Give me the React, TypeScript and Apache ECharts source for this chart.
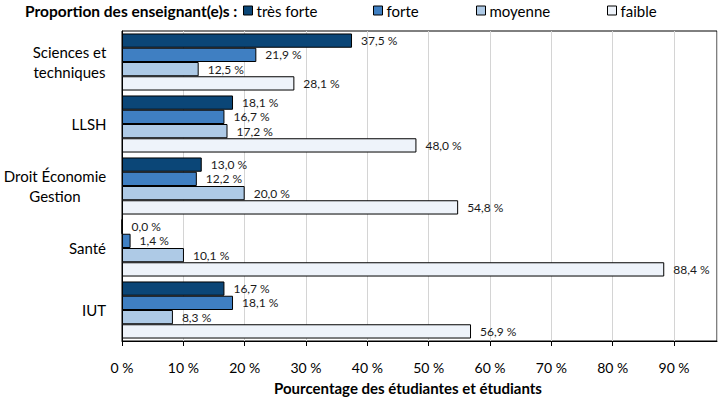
import React, { useEffect, useRef } from "react";
import * as echarts from "echarts";

const categories = ["Sciences et\ntechniques", "LLSH", "Droit Économie\nGestion", "Santé", "IUT"];
const seriesNames = ["très forte", "forte", "moyenne", "faible"];
const tresForte = [37.5, 18.1, 13.0, 0.0, 16.7];
const forte = [21.9, 16.7, 12.2, 1.4, 18.1];
const moyenne = [12.5, 17.2, 20.0, 10.1, 8.3];
const faible = [28.1, 48.0, 54.8, 88.4, 56.9];
const legendTitle = "Proportion des enseignant(e)s :";
const axisTitle = "Pourcentage des étudiantes et étudiants";
const colors = ["#0b4677", "#3f7fc2", "#aecae6", "#eef3fa"];
const legendLeft = [243, 373, 476, 607];

const FONT = "Lato, 'Open Sans', sans-serif";
const CAT_FONT_SIZE = 15;

function measure(text: string, font: string): number {
  const c = document.createElement("canvas").getContext("2d");
  if (!c) return text.length * 7;
  c.font = font;
  return c.measureText(text).width;
}

export default function App() {
  const ref = useRef<HTMLDivElement>(null);
  useEffect(() => {
    if (!ref.current) return;
    const chart = echarts.init(ref.current, null, { renderer: "svg" });
    const data = [tresForte, forte, moyenne, faible];

    // rich styles so multi-line category labels are centred within their own block
    const rich: Record<string, any> = {};
    categories.forEach((cat, i) => {
      const w = Math.max(...cat.split("\n").map((l) => measure(l, `${CAT_FONT_SIZE}px Lato`)));
      rich["c" + i] = {
        width: Math.ceil(w) + 1,
        align: "center",
        fontSize: CAT_FONT_SIZE,
        fontFamily: FONT,
        color: "#000",
        lineHeight: 20,
      };
    });

    chart.setOption({
      animation: false,
      textStyle: { fontFamily: FONT },
      grid: {
        left: 120,
        right: 1,
        top: 31,
        bottom: 57,
        show: true,
        borderColor: "#000",
        borderWidth: 1,
        backgroundColor: "transparent",
      },
      legend: seriesNames.map((n, i) => ({
        data: [n],
        left: legendLeft[i],
        top: 3,
        padding: 0,
        itemWidth: 9,
        itemHeight: 9,
        icon: "rect",
        selectedMode: false,
        textStyle: { fontFamily: FONT, fontSize: 15, color: "#000", padding: [0, 0, 0, -1] },
        itemStyle: { borderColor: "#000", borderWidth: 1 },
      })),
      graphic: [
        {
          type: "text",
          x: 25,
          y: 11,
          style: {
            text: legendTitle,
            font: `bold 15.5px ${FONT}`,
            fill: "#000",
            textVerticalAlign: "middle",
          },
        },
        {
          type: "text",
          x: 408,
          y: 388,
          style: {
            text: axisTitle,
            font: `bold 15px ${FONT}`,
            fill: "#000",
            textAlign: "center",
            textVerticalAlign: "middle",
          },
        },
      ],
      xAxis: {
        type: "value",
        min: 0,
        max: 97,
        interval: 10,
        axisLine: { show: true, lineStyle: { color: "#000" } },
        axisTick: { show: true, length: 5, lineStyle: { color: "#000" } },
        splitLine: { show: true, lineStyle: { color: "#d4d4d4" } },
        axisLabel: {
          color: "#000",
          fontSize: 14,
          fontFamily: FONT,
          margin: 19,
          showMaxLabel: false,
          formatter: (v: number) => (v % 10 === 0 ? `${v} %` : ""),
        },
      },
      yAxis: {
        type: "category",
        data: categories,
        inverse: true,
        axisLine: { show: true, lineStyle: { color: "#000" } },
        axisTick: { show: false },
        axisLabel: {
          color: "#000",
          fontSize: CAT_FONT_SIZE,
          fontFamily: FONT,
          margin: 15,
          lineHeight: 20,
          align: "right",
          rich,
          formatter: (v: string, idx: number) =>
            v
              .split("\n")
              .map((l) => `{c${idx}|${l}}`)
              .join("\n"),
        },
      },
      series: seriesNames.map((n, i) => ({
        name: n,
        type: "bar",
        data: data[i],
        barGap: "0%",
        barCategoryGap: "8%",
        itemStyle: { color: colors[i], borderColor: "#000", borderWidth: 1 },
        label: {
          show: true,
          position: "right",
          distance: 9,
          color: "#1a1a1a",
          fontSize: 12,
          fontFamily: FONT,
          formatter: (p: any) => `${p.value.toFixed(1).replace(".", ",")} %`,
        },
      })),
    });
    return () => chart.dispose();
  }, []);
  return <div ref={ref} style={{ width: 718, height: 398, position: "absolute", left: 0, top: 0 }} />;
}
